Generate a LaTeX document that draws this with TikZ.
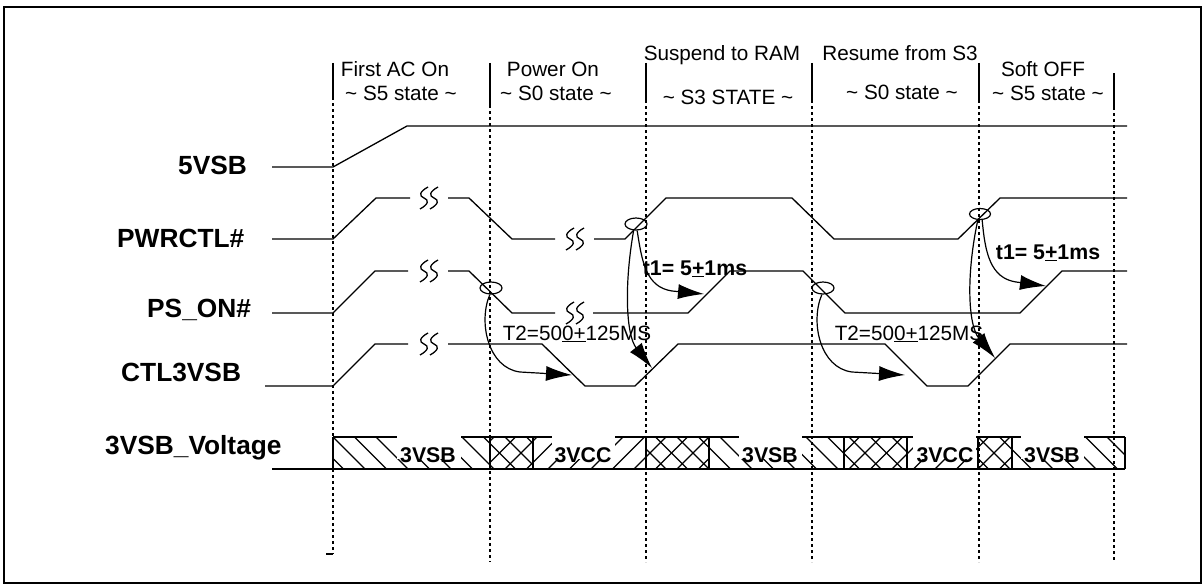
\documentclass[tikz,border=0pt]{standalone}
\usepackage{fontspec}
\setmainfont{Liberation Sans}
\usetikzlibrary{arrows.meta,shapes.geometric}
\begin{document}
\begin{tikzpicture}[x=1pt,y=-1pt,
  sig/.style={line width=1.3pt,line join=round},
  gridline/.style={line width=1.1pt,dash pattern=on 3pt off 3pt},
  solidtick/.style={line width=1.3pt},
  lbl/.style={font=\fontsize{26.3}{30}\selectfont\bfseries,anchor=base west,inner sep=0pt},
  hdr/.style={font=\fontsize{20.7}{24}\selectfont,anchor=base,inner sep=0pt},
  nb/.style={font=\fontsize{21.3}{25}\selectfont\bfseries,anchor=base,inner sep=0pt},
  nt/.style={font=\fontsize{20.7}{24}\selectfont,anchor=base,inner sep=0pt},
  ring/.style={draw,ellipse,line width=1.2pt,minimum width=22pt,minimum height=12pt,inner sep=0pt},
  arr/.style={line width=1.2pt,-{Latex[length=26pt,width=15pt]}},
  hatch/.style={line width=1.1pt},
  squig/.pic={
    \foreach \d in {-5,5} {
      \draw[line width=1.3pt] (\d+4,-11) .. controls (\d-5,-6) and (\d-5,-2) .. (\d,0) .. controls (\d+5,2) and (\d+5,6) .. (\d-4,11);
    }
  }
]
\useasboundingbox (0,0) rectangle (1204,586);
% frame
\draw[line width=1.5pt] (4,7) rectangle (1201,583);

% grid lines
\foreach \x/\a/\b/\c in {333/63/97/554, 490/63/105/562, 646/63/100/562, 812/63/100/562, 979/63/100/562, 1114/73/107/562} {
  \draw[solidtick] (\x,\a) -- (\x,\b);
  \draw[gridline] (\x,\b) -- (\x,\c);
}
\draw[solidtick] (326,554) -- (333,554);

% header texts
\node[hdr] (fa) at (395,76) {First AC On};
\node[hdr] (s5a) at (401,100) {\textasciitilde{} S5 state \textasciitilde};
\node[hdr] (po) at (553,76) {Power On};
\node[hdr] (s0a) at (556,100) {\textasciitilde{} S0 state \textasciitilde};
\node[hdr] (sr) at (722,60) {Suspend to RAM};
\node[hdr] (s3) at (728,104) {\textasciitilde{} S3 STATE \textasciitilde};
\node[hdr] (rs) at (900,60) {Resume from S3};
\node[hdr] (s0b) at (902,99) {\textasciitilde{} S0 state \textasciitilde};
\node[hdr] (so) at (1043,77) {Soft OFF};
\node[hdr] (s5b) at (1048,100) {\textasciitilde{} S5 state \textasciitilde};

% signal labels
\node[lbl] (l5) at (178,174.5) {5VSB};
\node[lbl] (lpw) at (117,247.5) {PWRCTL\#};
\node[lbl] (lps) at (147,317.5) {PS\_ON\#};
\node[lbl] (lctl) at (121,381) {CTL3VSB};
\node[lbl] (lv) at (105,454) {3VSB\_Voltage};

% 5VSB
\draw[sig] (272,167) -- (333,167) -- (407,126) -- (1127,126);

% PWRCTL#
\draw[sig] (272,239) -- (333,239) -- (376,198) -- (410,198);
\pic at (429,198) {squig};
\draw[sig] (448,198) -- (469,198) -- (512,239) -- (555,239);
\pic at (575,239) {squig};
\draw[sig] (594,239) -- (625,239) -- (666,198) -- (792,198) -- (834,239) -- (958,239) -- (1000,198) -- (1127,198);

% PS_ON#
\draw[sig] (272,313) -- (333,313) -- (375,271) -- (408,271);
\pic at (429,271) {squig};
\draw[sig] (448,271) -- (469,271) -- (512,313) -- (555,313);
\pic at (575,313) {squig};
\draw[sig] (593,313) -- (688,313) -- (730,271) -- (803,271) -- (845,313) -- (1020,313) -- (1062,271) -- (1127,271);

% CTL3VSB
\draw[sig] (265,386) -- (333,386) -- (375,344) -- (408,344);
\pic at (429,344) {squig};
\draw[sig] (448,344) -- (542,344) -- (585,386) -- (635,386) -- (678,344) -- (885,344) -- (927,386) -- (968,386) -- (1010,344) -- (1127,344);

% 3VSB voltage bar hatching
\foreach \a/\b/\t in {333/490/1, 490/533/3, 533/646/2, 646/709/3, 709/844/1, 844/907/3, 907/978/2, 978/1012/3, 1012/1125/1} {
  \begin{scope}
    \clip (\a,437) rectangle (\b,469);
    \ifnum\t=2 \else \foreach \n in {-2,...,38} {\draw[hatch] ({333+\n*21.5},437) -- ++(32,32);} \fi
    \ifnum\t=1 \else \foreach \n in {-2,...,38} {\draw[hatch] ({333+\n*21.5},469) -- ++(32,-32);} \fi
  \end{scope}
}
\draw[line width=1.3pt] (333,437) -- (1125,437);
\draw[line width=2pt] (272,469) -- (1125,469);
\foreach \x in {333,490,533,646,709,844,907,978,1012,1125} \draw[line width=1.3pt] (\x,437) -- (\x,469);

\fill[white] (397,432) rectangle (461,459);
\fill[white] (552,432) rectangle (615,459);
\fill[white] (739,432) rectangle (802,459);
\fill[white] (913,432) rectangle (976,459);
\fill[white] (1021,432) rectangle (1084,459);
\node[nb] (v1) at (428,462) {3VSB};
\node[nb] (v2) at (583,462) {3VCC};
\node[nb] (v3) at (770,462) {3VSB};
\node[nb] (v4) at (945,462) {3VCC};
\node[nb] (v5) at (1052,462) {3VSB};

% ellipses
\node[ring] (e1) at (491,288) {};
\node[ring] (e2) at (636,224) {};
\node[ring] (e3) at (823,288) {};
\node[ring,minimum width=21pt,minimum height=11pt] (e4) at (980,214) {};

% tips
\coordinate (k1) at (572,375);
\coordinate (k2) at (704,294);
\coordinate (k3) at (652,368);
\coordinate (k4) at (905,375);
\coordinate (k5) at (1046,286);
\coordinate (k6) at (995,358);

% timing texts
\node[nt] (T2a) at (577,340) {T2=50\underline{0+}125MS};
\node[nt] (T2b) at (909,340) {T2=50\underline{0+}125MS};
\node[nb] (t1a) at (695,275) {t1= 5\underline{+}1ms};
\node[nb] (t1b) at (1048,259) {t1= 5\underline{+}1ms};

% arrows
\draw[arr] (e1.-100) .. controls (478,322) and (488,368) .. (520,372) -- (k1);
\draw[arr] (e2.-80) .. controls (642,262) and (646,287) .. (672,291) -- (k2);
\draw[arr] (e2.-110) .. controls (624,285) and (626,335) .. (k3);
\draw[arr] (e3.-100) .. controls (810,322) and (820,368) .. (852,372) -- (k4);
\draw[arr] (e4.-70) .. controls (985,252) and (990,278) .. (1016,282) -- (k5);
\draw[arr] (e4.-110) .. controls (966,275) and (968,325) .. (k6);
\end{tikzpicture}
\end{document}
